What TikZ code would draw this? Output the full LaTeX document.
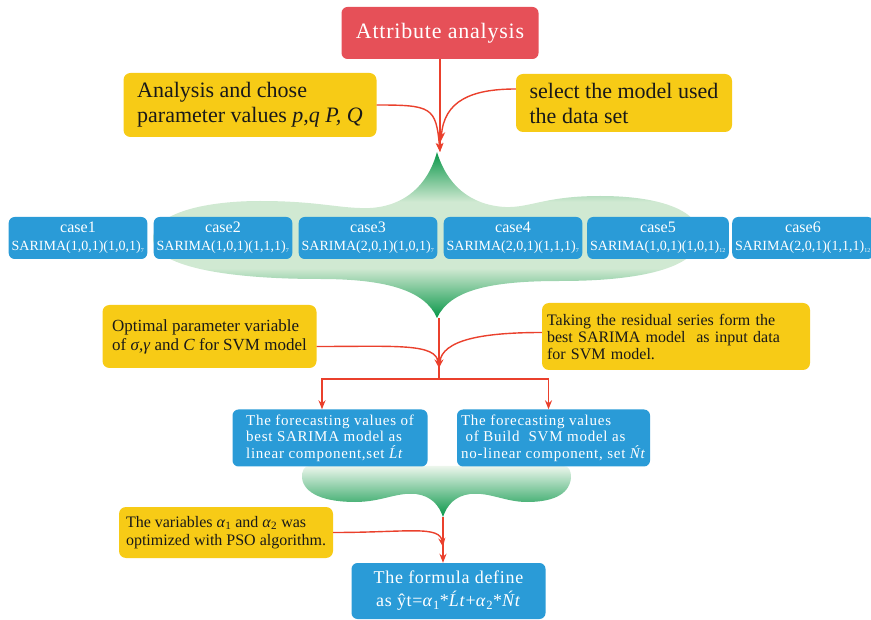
\documentclass[tikz,border=0pt]{standalone}
\usepackage{fontspec}
\setmainfont{Liberation Serif}
\usetikzlibrary{arrows.meta}

\definecolor{attrred}{RGB}{230,80,88}
\definecolor{noteyel}{RGB}{247,203,22}
\definecolor{caseblue}{RGB}{42,155,215}
\definecolor{linkred}{RGB}{234,64,44}
\definecolor{gdark}{RGB}{8,150,72}
\definecolor{glight}{RGB}{208,233,210}
\definecolor{gwhite}{RGB}{236,246,236}
\pgfdeclareverticalshading{blobshade}{100bp}{color(0bp)=(gdark); color(25bp)=(gdark);
    color(40bp)=(glight); color(60bp)=(glight); color(75bp)=(gdark); color(100bp)=(gdark)}

\begin{document}
\begin{tikzpicture}[x=1pt, y=-1pt, >={Stealth[length=9pt,width=7pt]},
    note/.style={fill=noteyel, rounded corners=7pt, inner sep=4pt, align=left, text=black!90},
    box/.style={fill=caseblue, rounded corners=6pt, inner sep=3pt, text=white, align=center},
    link/.style={draw=linkred, line width=1.4pt}]
    \useasboundingbox (0,0) rectangle (871,620);

    % green blobs
    \shade[shading=blobshade] (437,152)
        .. controls (447,185) and (470,205) .. (505,207)
        .. controls (530,208) and (545,196) .. (600,196)
        .. controls (670,196) and (702,215) .. (700,238)
        .. controls (698,265) and (650,281) .. (560,281)
        .. controls (490,281) and (450,290) .. (437,318)
        .. controls (425,290) and (385,279) .. (320,279)
        .. controls (220,279) and (155,265) .. (153,240)
        .. controls (151,215) and (200,201) .. (260,201)
        .. controls (320,201) and (340,209) .. (370,208)
        .. controls (405,206) and (428,185) .. (437,152) -- cycle;
    \shade[top color=gwhite, bottom color=gdark] (310,466) -- (563,466)
        .. controls (569,466) and (571,470) .. (571,478)
        .. controls (569,496) and (550,502) .. (527,502)
        .. controls (505,502) and (490,492) .. (470,494)
        .. controls (455,496) and (447,505) .. (443,517)
        .. controls (439,505) and (431,496) .. (416,494)
        .. controls (396,492) and (382,502) .. (355,502)
        .. controls (325,502) and (304,494) .. (302,478)
        .. controls (302,470) and (304,466) .. (310,466) -- cycle;

    \coordinate (tp1) at (440,152);
    \coordinate (tp2) at (441,141);
    \coordinate (bt1) at (439,318);
    \coordinate (mg) at (439,368);
    \coordinate (split) at (439,379);
    \coordinate (bt2) at (443,517);
    \coordinate (mg2) at (443,547);

    % top
    \node [fill=attrred, rounded corners=6pt, text=white, minimum width=197pt, minimum height=52pt,
        font=\fontsize{22}{25}\selectfont\addfontfeatures{LetterSpace=3.5}] (attr) at (440,33) {Attribute analysis};
    \node [note, minimum width=253pt, minimum height=64pt, font=\fontsize{22}{25}\selectfont] (ana) at (250,105)
        {Analysis and chose\\parameter values \textit{p,q P, Q}};
    \node [note, minimum width=216pt, minimum height=58pt, font=\fontsize{22}{25}\selectfont] (sel) at (624,103)
        {select the model used\\the data set};

    % cases
    \foreach \n/\pq/\sub in {1/{(1,0,1)(1,0,1)}/7, 2/{(1,0,1)(1,1,1)}/7, 3/{(2,0,1)(1,0,1)}/7,
                             4/{(2,0,1)(1,1,1)}/7, 5/{(1,0,1)(1,0,1)}/12, 6/{(2,0,1)(1,1,1)}/12} {
        \node [box, minimum width=138pt, minimum height=42pt, font=\fontsize{16}{18}\selectfont]
            (case\n) at ({78+145*(\n-1)},238)
            {case\n\\{\fontsize{14}{16}\selectfont SARIMA\pq\textsubscript{\fontsize{6}{6}\selectfont\sub}}};
    }

    % middle
    \node [note, minimum width=214pt, minimum height=63pt, font=\fontsize{17}{19}\selectfont] (opt) at (209.5,336.5)
        {Optimal parameter variable\\of \textit{σ,γ} and \textit{C} for SVM model};
    \node [note, text width=258pt, inner sep=5pt, minimum height=67pt, font=\fontsize{16}{17}\selectfont] (tak) at (676,336.5)
        {Taking the residual series form the\\best SARIMA model\ \ as input data\\for SVM model.};
    \node [box, align=left, minimum width=195pt, minimum height=57pt,
        font=\fontsize{15}{16.5}\selectfont\addfontfeatures{LetterSpace=5}] (fl) at (330,438)
        {The forecasting values of\\best SARIMA model as\\linear component,set \textit{Ĺt}};
    \node [box, align=left, minimum width=193pt, minimum height=57pt,
        font=\fontsize{15}{16.5}\selectfont\addfontfeatures{LetterSpace=5}] (fr) at (553.5,438)
        {The forecasting values\\\ of Build\ \ SVM model as\\no-linear component, set \textit{Ńt}};

    % bottom
    \node [note, minimum width=214pt, minimum height=51pt, font=\fontsize{16}{18}\selectfont] (pso) at (226,532.5)
        {The variables \textit{α}\textsubscript{1} and \textit{α}\textsubscript{2} was\\optimized with PSO algorithm.};
    \node [box, minimum width=194pt, minimum height=56pt,
        font=\fontsize{18}{23}\selectfont\addfontfeatures{LetterSpace=4}] (frm) at (448.5,591)
        {The formula define\\as ŷt=\textit{α}\textsubscript{1}*\textit{Ĺt}+\textit{α}\textsubscript{2}*\textit{Ńt}};

    % links
    \draw [link, ->] (attr.south) -- (tp1);
    \draw [link, ->] (ana.east) .. controls +(55,0) and +(-4,-45) .. (tp1);
    \draw [link, ->] ([yshift=14pt]sel.west) .. controls +(-45,0) and +(3,-40) .. (tp2);
    \draw [link] (bt1) -- (split);
    \draw [link, ->] ([yshift=-10pt]opt.east) .. controls +(80,0) and +(-3,-25) .. (mg);
    \draw [link, ->] ([yshift=4pt]tak.west) .. controls +(-60,0) and +(3,-28) .. (mg);
    \draw [link, ->] (split) -| ([xshift=-8pt]fl.north);
    \draw [link, ->] (split) -| ([xshift=-5pt]fr.north);
    \draw [link, ->] (bt2) -- (bt2 |- frm.north);
    \draw [link, ->] (pso.east) .. controls +(75,0) and +(-3,-22) .. (mg2);
\end{tikzpicture}
\end{document}
